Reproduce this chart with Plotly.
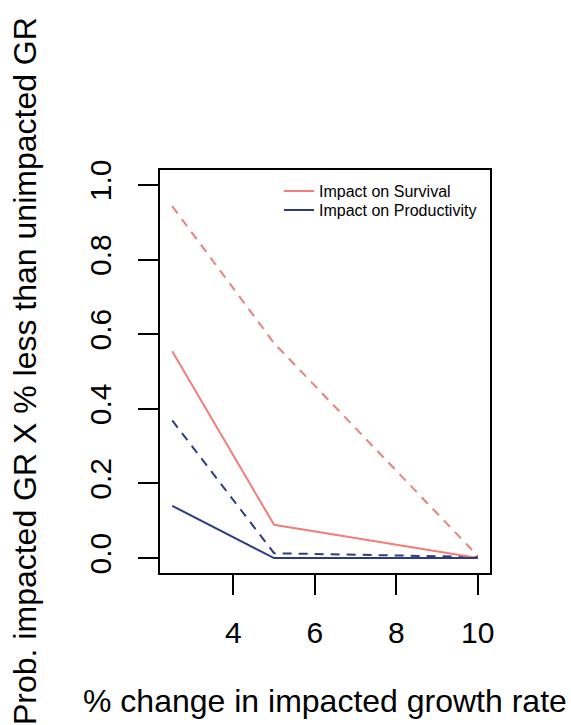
import plotly.graph_objects as go

# Data
x_change = [2.5, 5, 10]
surv_solid = [0.554, 0.089, 0.0]
surv_dashed = [0.943, 0.576, 0.006]
prod_solid = [0.140, 0.0, 0.0]
prod_dashed = [0.369, 0.013, 0.003]

x_ticks = [4, 6, 8, 10]
y_ticks = [0.0, 0.2, 0.4, 0.6, 0.8, 1.0]
y_ticktext = ["0.0", "0.2", "0.4", "0.6", "0.8", "1.0"]

RED = "#F07F7A"
RED_D = "#E8837C"
BLUE = "#2D3B84"
FONT = "Liberation Sans, Arial, sans-serif"

W, H = 571, 725
L, T = 160, 170
PW, PH = 330, 403

fig = go.Figure()
fig.add_trace(go.Scatter(x=x_change, y=surv_dashed, mode="lines",
                         line=dict(color=RED_D, width=2, dash="9px,7px"),
                         showlegend=False, hoverinfo="skip"))
fig.add_trace(go.Scatter(x=x_change, y=prod_dashed, mode="lines",
                         line=dict(color=BLUE, width=2, dash="9px,7px"),
                         showlegend=False, hoverinfo="skip"))
fig.add_trace(go.Scatter(x=x_change, y=surv_solid, mode="lines",
                         line=dict(color=RED, width=2),
                         name="Impact on Survival", legend="legend"))
fig.add_trace(go.Scatter(x=x_change, y=prod_solid, mode="lines",
                         line=dict(color=BLUE, width=2),
                         name="Impact on Productivity", legend="legend2"))

leg_common = dict(xanchor="left", yanchor="top",
                  bgcolor="rgba(0,0,0,0)", borderwidth=0,
                  font=dict(size=16, family=FONT, color="black"),
                  itemwidth=30, tracegroupgap=0)
leg_x = (279 - 160) / PW

fig.update_layout(
    width=W, height=H, autosize=False,
    margin=dict(l=L, r=W - L - PW, t=T, b=H - T - PH),
    paper_bgcolor="white", plot_bgcolor="white",
    font=dict(family=FONT, color="black"),
    showlegend=True,
    legend=dict(x=leg_x, y=1 - (174.2 - 170) / PH, **leg_common),
    legend2=dict(x=leg_x, y=1 - (193.2 - 170) / PH, **leg_common),
    xaxis=dict(range=[2.2, 10.3], tickvals=x_ticks, ticks="outside",
               ticklen=20, tickwidth=1.5, tickcolor="black",
               showline=True, mirror=True, linecolor="black", linewidth=1.5,
               showgrid=False, zeroline=False,
               tickfont=dict(size=30, family=FONT, color="black"),
               ticklabelstandoff=12),
    yaxis=dict(range=[-0.04, 1.04], tickvals=y_ticks, ticktext=y_ticktext,
               tickangle=-90, ticks="outside",
               ticklen=20, tickwidth=1.5, tickcolor="black",
               showline=True, mirror=True, linecolor="black", linewidth=1.5,
               showgrid=False, zeroline=False,
               tickfont=dict(size=30, family=FONT, color="black"),
               ticklabelstandoff=15),
    annotations=[
        dict(text="Prob. impacted GR X % less than unimpacted GR",
             xref="paper", yref="paper", x=(25 - 160) / PW, y=(573 - 371) / PH,
             textangle=-90, showarrow=False, xanchor="center", yanchor="middle",
             font=dict(size=32, family=FONT, color="black")),
        dict(text="% change in impacted growth rate",
             xref="paper", yref="paper", x=(325 - 160) / PW, y=(573 - 701) / PH,
             showarrow=False, xanchor="center", yanchor="middle",
             font=dict(size=32, family=FONT, color="black")),
    ],
)

# remove the default 8px page margin so the figure fills the window exactly
fig.write_html("out.html",
               config={"displayModeBar": False},
               post_script="document.body.style.margin='0';"
                           "document.body.style.overflow='hidden';")
